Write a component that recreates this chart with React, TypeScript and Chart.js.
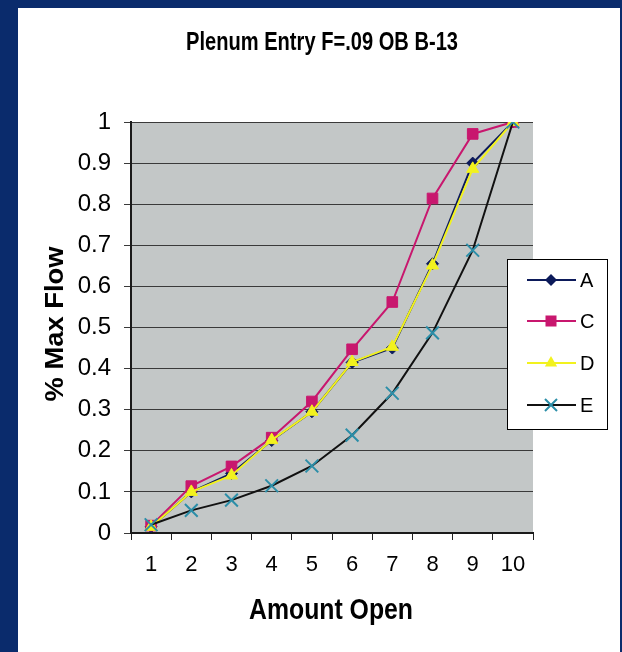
import React, { useEffect, useRef } from "react";
import { Chart, registerables } from "chart.js";

Chart.register(...registerables);

const categories = ["1", "2", "3", "4", "5", "6", "7", "8", "9", "10"];
const seriesA = [0.015, 0.1, 0.145, 0.225, 0.295, 0.415, 0.45, 0.655, 0.9, 1.0];
const seriesC = [0.018, 0.114, 0.162, 0.232, 0.32, 0.447, 0.562, 0.814, 0.971, 1.0];
const seriesD = [0.015, 0.1, 0.14, 0.226, 0.295, 0.416, 0.453, 0.651, 0.886, 1.0];
const seriesE = [0.02, 0.055, 0.08, 0.115, 0.163, 0.238, 0.34, 0.487, 0.688, 1.0];
const yTickLabels = ["0", "0.1", "0.2", "0.3", "0.4", "0.5", "0.6", "0.7", "0.8", "0.9", "1"];
const seriesNames = ["A", "C", "D", "E"];

const chartTitle = "Plenum Entry F=.09 OB B-13";
const xTitle = "Amount Open";
const yTitle = "% Max Flow";

const FONT = '"Liberation Sans", Arial, sans-serif';

const colA = "#0c1a5a";
const colC = "#c8176e";
const colD = "#f2f21e";
const colELine = "#111111";
const colEMark = "#2b8ea8";

function fitText(
  ctx: CanvasRenderingContext2D,
  text: string,
  cx: number,
  cy: number,
  size: number,
  targetW: number,
  rot: number
) {
  ctx.save();
  ctx.font = `bold ${size}px ${FONT}`;
  const w = ctx.measureText(text).width;
  const sx = targetW / w;
  ctx.translate(cx, cy);
  ctx.rotate(rot);
  ctx.scale(sx, 1);
  ctx.fillStyle = "#000";
  ctx.textAlign = "center";
  ctx.textBaseline = "alphabetic";
  ctx.fillText(text, 0, size * 0.358);
  ctx.restore();
}

function drawMarker(ctx: CanvasRenderingContext2D, kind: string, x: number, y: number) {
  ctx.save();
  if (kind === "A") {
    ctx.fillStyle = colA;
    ctx.beginPath();
    ctx.moveTo(x - 6, y);
    ctx.lineTo(x, y - 6);
    ctx.lineTo(x + 6, y);
    ctx.lineTo(x, y + 6);
    ctx.closePath();
    ctx.fill();
  } else if (kind === "C") {
    ctx.fillStyle = colC;
    ctx.fillRect(x - 5.5, y - 5.5, 11, 11);
  } else if (kind === "D") {
    ctx.fillStyle = colD;
    ctx.beginPath();
    ctx.moveTo(x, y - 7);
    ctx.lineTo(x + 6.1, y + 3.5);
    ctx.lineTo(x - 6.1, y + 3.5);
    ctx.closePath();
    ctx.fill();
  } else {
    ctx.strokeStyle = colEMark;
    ctx.lineWidth = 2;
    ctx.beginPath();
    ctx.moveTo(x - 6, y - 6);
    ctx.lineTo(x + 6, y + 6);
    ctx.moveTo(x + 6, y - 6);
    ctx.lineTo(x - 6, y + 6);
    ctx.stroke();
  }
  ctx.restore();
}

const lineColors: Record<string, string> = { A: colA, C: colC, D: colD, E: colELine };

const decorPlugin = {
  id: "decor",
  beforeDraw(chart: any) {
    const { ctx, chartArea } = chart;
    ctx.save();
    ctx.fillStyle = "#0a2b6c";
    ctx.fillRect(0, 0, chart.width, chart.height);
    ctx.fillStyle = "#ffffff";
    ctx.fillRect(18, 8, 602, chart.height - 8);
    ctx.fillStyle = "#c3c7c7";
    ctx.fillRect(chartArea.left, chartArea.top, chartArea.right - chartArea.left, chartArea.bottom - chartArea.top);
    ctx.restore();
  },
  afterDraw(chart: any) {
    const { ctx } = chart;
    fitText(ctx, chartTitle, 322, 41, 25, 272, 0);
    fitText(ctx, xTitle, 331, 609, 29, 164, 0);
    fitText(ctx, yTitle, 54, 324, 25, 155, -Math.PI / 2);

    // legend box
    ctx.save();
    ctx.fillStyle = "#ffffff";
    ctx.fillRect(507, 259, 100, 170);
    ctx.strokeStyle = "#000";
    ctx.lineWidth = 1;
    ctx.strokeRect(507.5, 259.5, 100, 170);
    const ys = [280, 321, 363, 405];
    seriesNames.forEach((name, i) => {
      const y = ys[i];
      ctx.strokeStyle = lineColors[name];
      ctx.lineWidth = 2;
      ctx.beginPath();
      ctx.moveTo(527, y);
      ctx.lineTo(576, y);
      ctx.stroke();
      drawMarker(ctx, name, 551, y);
      ctx.fillStyle = "#000";
      ctx.font = `20px ${FONT}`;
      ctx.textAlign = "left";
      ctx.textBaseline = "alphabetic";
      ctx.fillText(name, 580, y + 7);
    });
    ctx.restore();
  },
};

export default function App() {
  const ref = useRef<HTMLCanvasElement>(null);
  useEffect(() => {
    if (!ref.current) return;
    const chart = new Chart(ref.current, {
      type: "line",
      data: {
        labels: categories,
        datasets: [
          {
            label: seriesNames[0],
            data: seriesA,
            borderColor: colA,
            backgroundColor: colA,
            borderWidth: 2,
            pointStyle: "rectRot",
            pointRadius: 6,
            pointBorderWidth: 1,
            pointBorderColor: colA,
            pointBackgroundColor: colA,
            order: 4,
          },
          {
            label: seriesNames[1],
            data: seriesC,
            borderColor: colC,
            backgroundColor: colC,
            borderWidth: 2,
            pointStyle: "rect",
            pointRadius: 7.5,
            pointBorderWidth: 1,
            pointBorderColor: colC,
            pointBackgroundColor: colC,
            order: 3,
          },
          {
            label: seriesNames[2],
            data: seriesD,
            borderColor: colD,
            backgroundColor: colD,
            borderWidth: 2,
            pointStyle: "triangle",
            pointRadius: 7,
            pointBorderWidth: 1,
            pointBorderColor: colD,
            pointBackgroundColor: colD,
            order: 2,
          },
          {
            label: seriesNames[3],
            data: seriesE,
            borderColor: colELine,
            backgroundColor: colEMark,
            borderWidth: 2,
            pointStyle: "crossRot",
            pointRadius: 9,
            pointBorderWidth: 2,
            pointBorderColor: colEMark,
            pointBackgroundColor: colEMark,
            order: 1,
          },
        ],
      },
      options: {
        animation: false,
        responsive: false,
        devicePixelRatio: 1,
        layout: { padding: { left: 30, top: 122, right: 89, bottom: 20 } },
        plugins: {
          legend: { display: false },
          tooltip: { enabled: false },
          title: { display: false },
        },
        scales: {
          x: {
            type: "category",
            offset: true,
            grid: {
              display: true,
              drawOnChartArea: false,
              drawTicks: true,
              tickLength: 7,
              offset: true,
              color: "#222",
              lineWidth: 1,
            },
            border: { display: true, color: "#1a1a1a", width: 2 },
            ticks: {
              color: "#000",
              font: { family: FONT, size: 22 },
              padding: 12,
              maxRotation: 0,
              autoSkip: false,
            },
            afterFit(scale: any) {
              scale.height = 99;
            },
          },
          y: {
            min: 0,
            max: 1,
            grid: {
              color: "#3a3a3a",
              lineWidth: 1,
              drawTicks: true,
              tickLength: 7,
            },
            border: { display: true, color: "#1a1a1a", width: 2 },
            ticks: {
              stepSize: 0.1,
              color: "#000",
              font: { family: FONT, size: 24 },
              padding: 13,
              callback: (_v: any, i: number) => yTickLabels[i],
            },
            afterFit(scale: any) {
              scale.width = 101;
            },
          },
        },
      },
      plugins: [decorPlugin],
    } as any);
    return () => chart.destroy();
  }, []);
  return (
    <div style={{ position: "fixed", left: 0, top: 0, width: 622, height: 652 }}>
      <canvas ref={ref} width={622} height={652} style={{ display: "block", width: 622, height: 652 }} />
    </div>
  );
}
